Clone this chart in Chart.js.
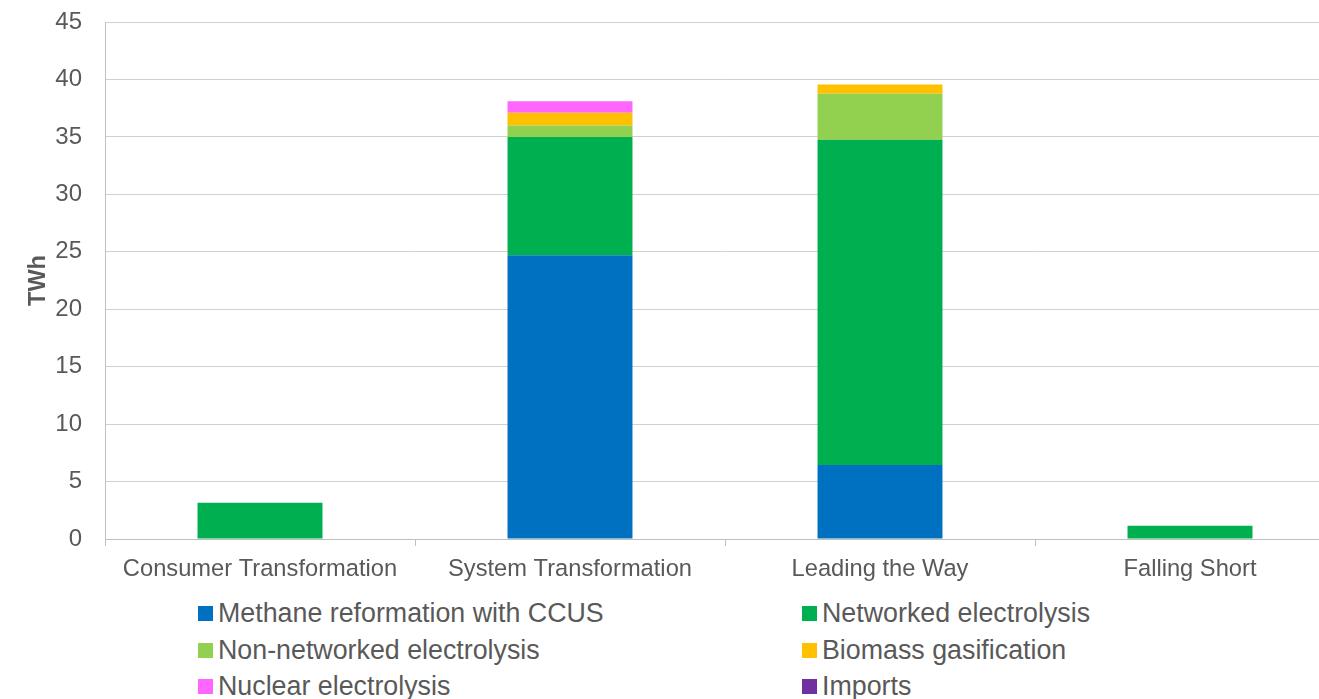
<!DOCTYPE html>
<html>
<head>
<meta charset="utf-8">
<script src="https://cdn.jsdelivr.net/npm/chart.js@4/dist/chart.umd.min.js"></script>
<style>
  html, body { margin: 0; padding: 0; background: #fff; overflow: hidden; }
  body { width: 1319px; height: 699px; position: relative; font-family: "Liberation Sans", Arial, sans-serif; }
  #wrap { position: absolute; left: 0; top: 0; width: 1345px; height: 582px; }
  #legend { position: absolute; left: 0; top: 595px; width: 1319px; }
  .item { position: absolute; font-size: 26.8px; color: #595959; white-space: nowrap; line-height: 36px; }
  .item span.box { display: inline-block; width: 15px; height: 15px; margin-right: 5px; vertical-align: 1px; }
</style>
</head>
<body>
<div id="wrap"><canvas id="hydrogenChart"></canvas></div>
<div id="legend"></div>
<script>
// categories + tick labels
const scenarios = ['Consumer Transformation', 'System Transformation', 'Leading the Way', 'Falling Short'];
const yTicks = [0, 5, 10, 15, 20, 25, 30, 35, 40, 45];

// series values (TWh)
const methaneCCUS = [0, 24.7, 6.45, 0];
const networkedElectrolysis = [3.16, 10.3, 28.3, 1.16];
const nonNetworkedElectrolysis = [0, 1.0, 4.0, 0];
const biomassGasification = [0, 1.1, 0.8, 0];
const nuclearElectrolysis = [0, 1.0, 0, 0];
const imports = [0, 0, 0, 0];

const textColor = '#595959';
const gridColor = '#d0d0d0';

const series = [
  { label: 'Methane reformation with CCUS', data: methaneCCUS, color: '#0070C0' },
  { label: 'Networked electrolysis', data: networkedElectrolysis, color: '#00B050' },
  { label: 'Non-networked electrolysis', data: nonNetworkedElectrolysis, color: '#92D050' },
  { label: 'Biomass gasification', data: biomassGasification, color: '#FFC000' },
  { label: 'Nuclear electrolysis', data: nuclearElectrolysis, color: '#FF66FF' },
  { label: 'Imports', data: imports, color: '#7030A0' }
];

// === Legend (two columns, html) ===
const legendEl = document.getElementById('legend');
series.forEach((s, i) => {
  const div = document.createElement('div');
  div.className = 'item';
  div.style.left = (i % 2 === 0 ? 198 : 802) + 'px';
  div.style.top = (Math.floor(i / 2) * 36.5) + 'px';
  div.innerHTML = `<span class="box" style="background:${s.color}"></span>${s.label}`;
  legendEl.appendChild(div);
});

// === Chart ===
const ctx = document.getElementById('hydrogenChart').getContext('2d');

new Chart(ctx, {
  type: 'bar',
  data: {
    labels: scenarios,
    datasets: series.map(s => ({
      label: s.label,
      data: s.data,
      backgroundColor: s.color,
      borderWidth: 0,
      barPercentage: 1,
      categoryPercentage: 0.403
    }))
  },
  options: {
    responsive: true,
    maintainAspectRatio: false,
    animation: false,
    layout: { padding: { top: 22, right: 0, left: 0, bottom: 0 } },
    plugins: {
      legend: { display: false },
      tooltip: { enabled: false }
    },
    scales: {
      x: {
        stacked: true,
        offset: true,
        grid: {
          offset: true,
          drawOnChartArea: false,
          drawTicks: true,
          tickLength: 7,
          color: '#bfbfbf'
        },
        border: { display: true, color: '#bfbfbf', width: 1 },
        ticks: {
          color: textColor,
          font: { family: 'Liberation Sans', size: 23.7 },
          padding: 9,
          maxRotation: 0,
          autoSkip: false
        },
        afterFit: (scale) => { scale.height = 43; scale.paddingLeft = 0; scale.paddingRight = 0; }
      },
      y: {
        stacked: true,
        min: 0,
        max: 45,
        afterBuildTicks: (scale) => { scale.ticks = yTicks.map(v => ({ value: v })); },
        grid: { color: gridColor, drawTicks: false },
        border: { display: true, color: '#bfbfbf', width: 1 },
        ticks: {
          color: textColor,
          font: { family: 'Liberation Sans', size: 24 },
          padding: 23
        },
        title: {
          display: true,
          text: 'TWh',
          color: textColor,
          font: { family: 'Liberation Sans', size: 23.5, weight: 'bold' },
          padding: { top: 24, bottom: 0 }
        },
        afterFit: (scale) => { scale.width = 105; scale.paddingTop = 0; scale.paddingBottom = 0; }
      }
    }
  }
});
</script>
</body>
</html>
